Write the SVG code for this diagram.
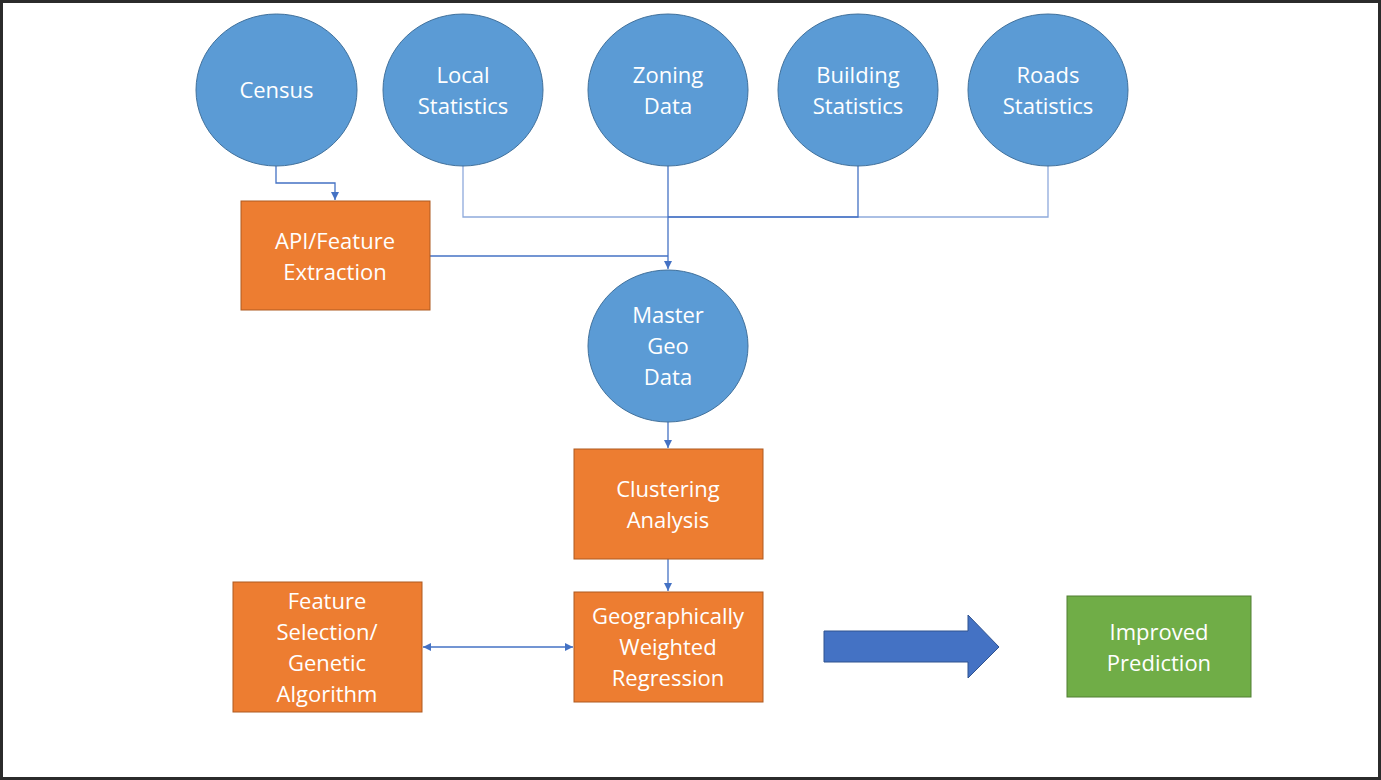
<svg xmlns="http://www.w3.org/2000/svg" width="1381" height="780" viewBox="0 0 1381 780">
<defs>
<style>
.c{fill:#5b9bd5;stroke:#41719c;stroke-width:1}
.o{fill:#ed7d31;stroke:#ae5a21;stroke-width:1}
.g{fill:#70ad47;stroke:#507e32;stroke-width:1}
.t{font-family:"Open Sans","Noto Sans",sans-serif;font-size:22px;fill:#ffffff;text-anchor:middle}
.l{fill:none;stroke:#4472c4;stroke-width:1.3}
.lt{fill:none;stroke:#8faadc;stroke-width:1.3}
</style>
<marker id="ah" viewBox="0 0 10 10" refX="10" refY="5" markerWidth="8" markerHeight="8" markerUnits="userSpaceOnUse" orient="auto-start-reverse">
<path d="M0,0 L10,5 L0,10 Z" fill="#4472c4"/>
</marker>
</defs>
<rect x="1.5" y="1.5" width="1378" height="777" fill="#ffffff" stroke="#2b2b2b" stroke-width="3"/>
<g id="connectors">
<path class="l" d="M276,166 V183 H335 V200" marker-end="url(#ah)"/>
<path class="lt" d="M463,166 V217 H1048 V166"/>
<path class="l" d="M858,166 V217 H668"/>
<path class="l" d="M668,166 V269" marker-end="url(#ah)"/>
<path class="l" d="M430,256 H668"/>
<path class="l" d="M668,422 V448" marker-end="url(#ah)"/>
<path class="l" d="M668,559 V591" marker-end="url(#ah)"/>
<path class="l" d="M423,647 H573" marker-start="url(#ah)" marker-end="url(#ah)"/>
</g>
<g id="census"><ellipse class="c" cx="276.5" cy="90" rx="80.5" ry="76"/><text class="t" x="276.5" y="98">Census</text></g>
<g id="local"><ellipse class="c" cx="463" cy="90" rx="80" ry="76"/><text class="t" x="463" y="83">Local</text><text class="t" x="463" y="114">Statistics</text></g>
<g id="zoning"><ellipse class="c" cx="668" cy="90" rx="80" ry="76"/><text class="t" x="668" y="83">Zoning</text><text class="t" x="668" y="114">Data</text></g>
<g id="building"><ellipse class="c" cx="858" cy="90" rx="80" ry="76"/><text class="t" x="858" y="83">Building</text><text class="t" x="858" y="114">Statistics</text></g>
<g id="roads"><ellipse class="c" cx="1048" cy="90" rx="80" ry="76"/><text class="t" x="1048" y="83">Roads</text><text class="t" x="1048" y="114">Statistics</text></g>
<g id="api"><rect class="o" x="241" y="201" width="189" height="109"/><text class="t" x="335" y="249">API/Feature</text><text class="t" x="335" y="280">Extraction</text></g>
<g id="master"><ellipse class="c" cx="668" cy="346" rx="80" ry="76"/><text class="t" x="668" y="323">Master</text><text class="t" x="668" y="354">Geo</text><text class="t" x="668" y="385">Data</text></g>
<g id="clustering"><rect class="o" x="574" y="449" width="189" height="110"/><text class="t" x="668" y="497">Clustering</text><text class="t" x="668" y="528">Analysis</text></g>
<g id="gwr"><rect class="o" x="574" y="592" width="189" height="110"/><text class="t" x="668" y="624">Geographically</text><text class="t" x="668" y="655">Weighted</text><text class="t" x="668" y="686">Regression</text></g>
<g id="feature"><rect class="o" x="233" y="582" width="189" height="130"/><text class="t" x="327" y="609">Feature</text><text class="t" x="327" y="640">Selection/</text><text class="t" x="327" y="671">Genetic</text><text class="t" x="327" y="702">Algorithm</text></g>
<g id="bigarrow"><path d="M824,631 H968 V615 L999,647 L968,678 V662 H824 Z" fill="#4472c4" stroke="#2f528f" stroke-width="1"/></g>
<g id="improved"><rect class="g" x="1067" y="596" width="184" height="101"/><text class="t" x="1159" y="640">Improved</text><text class="t" x="1159" y="671">Prediction</text></g>
</svg>
